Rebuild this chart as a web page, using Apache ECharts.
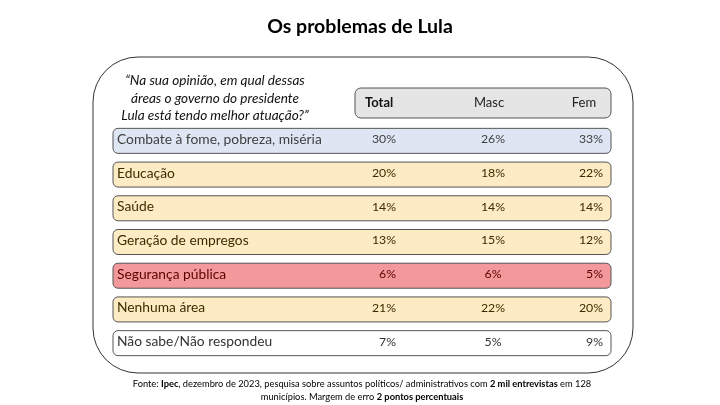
<!DOCTYPE html>
<html><head><meta charset="utf-8">
<script src="https://cdn.jsdelivr.net/npm/echarts@6/dist/echarts.min.js"></script>
<style>html,body{margin:0;padding:0;background:#fff}#c{width:720px;height:405px}</style>
</head><body><div id="c"></div>
<script>
const title = 'Os problemas de Lula';
const question = ['“Na sua opinião, em qual dessas', 'áreas o governo do presidente', 'Lula está tendo melhor atuação?”'];
const columns = ['Total', 'Masc', 'Fem'];
const categories = ['Combate à fome, pobreza, miséria', 'Educação', 'Saúde', 'Geração de empregos', 'Segurança pública', 'Nenhuma área', 'Não sabe/Não respondeu'];
const total = [30, 20, 14, 13, 6, 21, 7];
const masc = [26, 18, 14, 15, 6, 22, 5];
const fem = [33, 22, 14, 12, 5, 20, 9];
const source1 = '{n|Fonte: }{b|Ipec}{n|, dezembro de 2023, pesquisa sobre assuntos políticos/ administrativos com }{b|2 mil entrevistas}{n| em 128}';
const source2 = '{n|municípios. Margem de erro }{b|2 pontos percentuais}';

const rowFill = ['#dee6f4', '#fdebc4', '#fdebc4', '#fdebc4', '#f4999b', '#fdebc4', '#ffffff'];
const rowText = ['#3f3f3f', '#3b2c00', '#3b2c00', '#3b2c00', '#5c0000', '#3b2c00', '#333333'];
const FONT = 'Lato, "Open Sans", sans-serif';
const srcRich = {n: {font: '9.3px ' + FONT, fill: '#000'}, b: {font: 'bold 9.3px ' + FONT, fill: '#000'}};

const chart = echarts.init(document.getElementById('c'), null, {renderer: 'canvas'});
chart.setOption({
  animation: false,
  backgroundColor: '#ffffff',
  title: {
    text: title, left: 'center', top: 12,
    textStyle: {fontFamily: FONT, fontSize: 19.5, fontWeight: 'bold', color: '#000'}
  },
  grid: {left: 113, right: 109, top: 124, bottom: 45},
  xAxis: {type: 'value', min: 0, max: 100, show: false},
  yAxis: {type: 'category', data: categories, inverse: true, show: false},
  graphic: [
    {type: 'rect', shape: {x: 93, y: 57, width: 540, height: 316, r: 45}, style: {fill: 'none', stroke: '#333', lineWidth: 1}, z: 0},
    {type: 'text', x: 215, y: 72, style: {text: question.join('\n'), align: 'center', verticalAlign: 'top', font: 'italic 13.6px ' + FONT, lineHeight: 17.5, fill: '#111'}},
    {type: 'rect', shape: {x: 355, y: 88, width: 256, height: 30, r: 6}, style: {fill: '#e5e5e5', stroke: '#555', lineWidth: 1}},
    {type: 'text', x: 365, y: 103, style: {text: columns[0], align: 'left', verticalAlign: 'middle', font: 'bold 13px ' + FONT, fill: '#111'}},
    {type: 'text', x: 489, y: 103, style: {text: columns[1], align: 'center', verticalAlign: 'middle', font: '13px ' + FONT, fill: '#222'}},
    {type: 'text', x: 584, y: 103, style: {text: columns[2], align: 'center', verticalAlign: 'middle', font: '13px ' + FONT, fill: '#222'}},
    {type: 'text', x: 362, y: 384, style: {text: source1, align: 'center', verticalAlign: 'middle', rich: srcRich}},
    {type: 'text', x: 362, y: 397, style: {text: source2, align: 'center', verticalAlign: 'middle', rich: srcRich}}
  ],
  series: [{
    type: 'custom',
    coordinateSystem: 'cartesian2d',
    encode: {x: 1, y: 0},
    data: categories.map((c, i) => [i, total[i], masc[i], fem[i]]),
    renderItem: function (params, api) {
      const i = api.value(0);
      const p = api.coord([0, i]);
      const cs = params.coordSys;
      const h = 25;
      const y0 = p[1] - h / 2;
      const ty = p[1] - 1.5;
      const col = rowText[i];
      const f = '13.8px ' + FONT;
      const fv = '12.3px ' + FONT;
      return {
        type: 'group',
        children: [
          {type: 'rect', shape: {x: cs.x, y: y0, width: cs.width, height: h, r: 5}, style: {fill: rowFill[i], stroke: '#555', lineWidth: 1}},
          {type: 'text', x: cs.x + 4, y: ty, style: {text: categories[i], align: 'left', verticalAlign: 'middle', font: f, fill: col}},
          {type: 'text', x: cs.x + 283, y: ty, style: {text: api.value(1) + '%', align: 'right', verticalAlign: 'middle', font: fv, fill: col}},
          {type: 'text', x: cs.x + 380, y: ty, style: {text: api.value(2) + '%', align: 'center', verticalAlign: 'middle', font: fv, fill: col}},
          {type: 'text', x: cs.x + 490, y: ty, style: {text: api.value(3) + '%', align: 'right', verticalAlign: 'middle', font: fv, fill: col}}
        ]
      };
    }
  }]
});
</script></body></html>
